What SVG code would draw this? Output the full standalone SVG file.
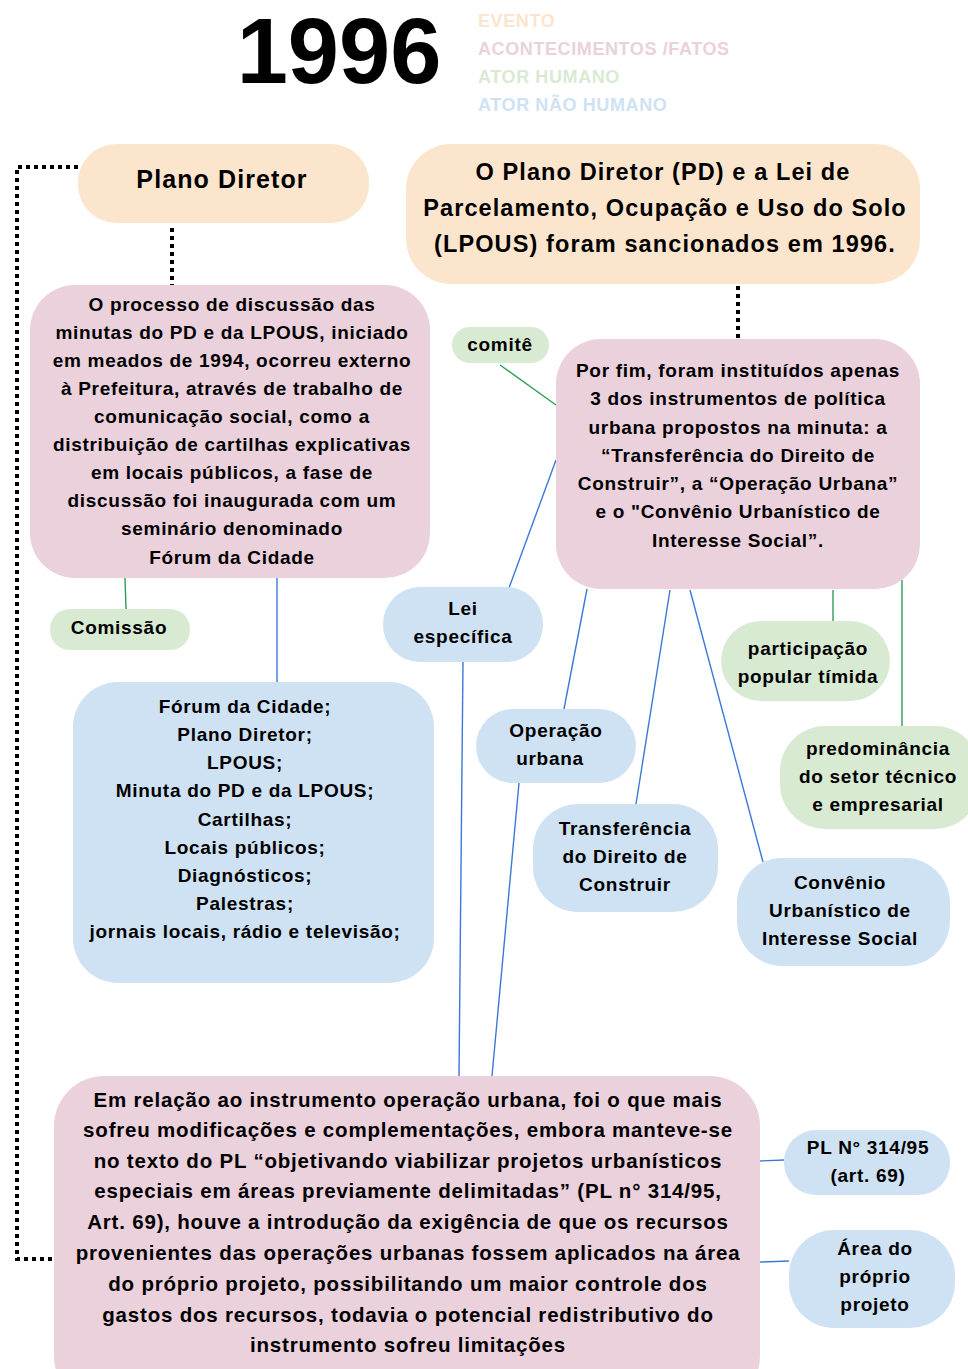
<svg xmlns="http://www.w3.org/2000/svg" width="968" height="1369" viewBox="0 0 968 1369">
  <defs>
    <style>
      text { font-family: "Liberation Sans", Arial, sans-serif; font-weight: bold; fill: #000; text-anchor: middle; }
      .evt { fill: #fce5cd; }
      .fact { fill: #ead1dc; }
      .hum { fill: #d9ead3; }
      .nonhum { fill: #cfe2f3; }
      .t19 { font-size: 19px; letter-spacing: 0.7px; }
      .t20 { font-size: 20.5px; letter-spacing: 0.8px; }
      .t23 { font-size: 23.5px; letter-spacing: 1.1px; }
      .dot { fill: none; stroke: #000; stroke-width: 4; stroke-dasharray: 4 4; }
      .blue { fill: none; stroke: #3c78d8; stroke-width: 1.4; }
      .green { fill: none; stroke: #2f9e55; stroke-width: 1.4; }
      .legend { font-size: 18px; letter-spacing: 0.6px; text-anchor: start; }
    </style>
  </defs>
  <rect width="968" height="1369" fill="#ffffff"/>

  <!-- title and colour key -->
  <g id="title">
    <text x="339" y="83" style="font-size:92px">1996</text>
  </g>
  <g id="legend">
    <text class="legend" x="478" y="27" style="fill:#fce5cd">EVENTO</text>
    <text class="legend" x="478" y="55" style="fill:#ead1dc">ACONTECIMENTOS /FATOS</text>
    <text class="legend" x="478" y="83" style="fill:#d9ead3">ATOR HUMANO</text>
    <text class="legend" x="478" y="111" style="fill:#cfe2f3">ATOR NÃO HUMANO</text>
  </g>

  <!-- connectors -->
  <g id="connectors">
    <path class="dot" d="M172 228 V285"/>
    <path class="dot" d="M78 167 H17 V1259 H54"/>
    <path class="dot" d="M738 286 V339"/>
    <path class="green" d="M500 365 L556 405"/>
    <path class="blue" d="M556 460 L509 588"/>
    <path class="green" d="M125 578 L126 609"/>
    <path class="blue" d="M277 578 V682"/>
    <path class="blue" d="M463 662 L459 1076"/>
    <path class="blue" d="M587 589 L564 709"/>
    <path class="blue" d="M519 783 L492 1076"/>
    <path class="blue" d="M670 590 L636 804"/>
    <path class="blue" d="M690 590 L763 862"/>
    <path class="green" d="M833 590 V621"/>
    <path class="green" d="M902 580 V726"/>
    <path class="blue" d="M760 1161 L784 1160"/>
    <path class="blue" d="M760 1262 L789 1261"/>
  </g>

  <g id="plano-diretor">
    <rect class="evt" x="78" y="144" width="291" height="79" rx="38"/>
    <text x="222" y="188" style="font-size:25px;letter-spacing:1.1px">Plano Diretor</text>
  </g>

  <g id="sancionados">
    <rect class="evt" x="406" y="144" width="514" height="140" rx="45"/>
    <text class="t23" x="663" y="180">O Plano Diretor (PD) e a Lei de</text>
    <text class="t23" x="665" y="216">Parcelamento, Ocupação e Uso do Solo</text>
    <text class="t23" x="665" y="252">(LPOUS) foram sancionados em 1996.</text>
  </g>

  <g id="processo">
    <rect class="fact" x="30" y="285" width="400" height="293" rx="45"/>
    <text class="t19" x="232" y="311">O processo de discussão das</text>
    <text class="t19" x="232" y="339">minutas do PD e da LPOUS, iniciado</text>
    <text class="t19" x="232" y="367">em meados de 1994, ocorreu externo</text>
    <text class="t19" x="232" y="395">à Prefeitura, através de trabalho de</text>
    <text class="t19" x="232" y="423">comunicação social, como a</text>
    <text class="t19" x="232" y="451">distribuição de cartilhas explicativas</text>
    <text class="t19" x="232" y="479">em locais públicos, a fase de</text>
    <text class="t19" x="232" y="507">discussão foi inaugurada com um</text>
    <text class="t19" x="232" y="535">seminário denominado</text>
    <text class="t19" x="232" y="564">Fórum da Cidade</text>
  </g>

  <g id="comite">
    <rect class="hum" x="452" y="327" width="97" height="36" rx="18"/>
    <text class="t19" x="500" y="351">comitê</text>
  </g>

  <g id="instrumentos">
    <rect class="fact" x="556" y="339" width="364" height="250" rx="45"/>
    <text class="t19" x="738" y="377">Por fim, foram instituídos apenas</text>
    <text class="t19" x="738" y="405">3 dos instrumentos de política</text>
    <text class="t19" x="738" y="434">urbana propostos na minuta: a</text>
    <text class="t19" x="738" y="462">“Transferência do Direito de</text>
    <text class="t19" x="738" y="490">Construir”, a “Operação Urbana”</text>
    <text class="t19" x="738" y="518">e o "Convênio Urbanístico de</text>
    <text class="t19" x="738" y="547">Interesse Social”.</text>
  </g>

  <g id="comissao">
    <rect class="hum" x="50" y="609" width="140" height="41" rx="20"/>
    <text class="t19" x="119" y="634">Comissão</text>
  </g>

  <g id="lei-especifica">
    <rect class="nonhum" x="383" y="587" width="160" height="75" rx="37"/>
    <text class="t19" x="463" y="615">Lei</text>
    <text class="t19" x="463" y="643">específica</text>
  </g>

  <g id="lista-forum">
    <rect class="nonhum" x="73" y="682" width="361" height="301" rx="45"/>
    <text class="t19" x="245" y="713">Fórum da Cidade;</text>
    <text class="t19" x="245" y="741">Plano Diretor;</text>
    <text class="t19" x="245" y="769">LPOUS;</text>
    <text class="t19" x="245" y="797">Minuta do PD e da LPOUS;</text>
    <text class="t19" x="245" y="826">Cartilhas;</text>
    <text class="t19" x="245" y="854">Locais públicos;</text>
    <text class="t19" x="245" y="882">Diagnósticos;</text>
    <text class="t19" x="245" y="910">Palestras;</text>
    <text class="t19" x="245" y="938">jornais locais, rádio e televisão;</text>
  </g>

  <g id="participacao">
    <rect class="hum" x="721" y="621" width="169" height="80" rx="40"/>
    <text class="t19" x="808" y="655">participação</text>
    <text class="t19" x="808" y="683">popular tímida</text>
  </g>

  <g id="operacao-urbana">
    <rect class="nonhum" x="476" y="709" width="160" height="74" rx="37"/>
    <text class="t19" x="556" y="737">Operação</text>
    <text class="t19" x="550" y="765">urbana</text>
  </g>

  <g id="predominancia">
    <rect class="hum" x="780" y="726" width="200" height="103" rx="45"/>
    <text class="t19" x="878" y="755">predominância</text>
    <text class="t19" x="878" y="783">do setor técnico</text>
    <text class="t19" x="878" y="811">e empresarial</text>
  </g>

  <g id="transferencia">
    <rect class="nonhum" x="533" y="804" width="185" height="108" rx="45"/>
    <text class="t19" x="625" y="835">Transferência</text>
    <text class="t19" x="625" y="863">do Direito de</text>
    <text class="t19" x="625" y="891">Construir</text>
  </g>

  <g id="convenio">
    <rect class="nonhum" x="737" y="858" width="213" height="108" rx="45"/>
    <text class="t19" x="840" y="889">Convênio</text>
    <text class="t19" x="840" y="917">Urbanístico de</text>
    <text class="t19" x="840" y="945">Interesse Social</text>
  </g>

  <g id="operacao-detalhe">
    <rect class="fact" x="54" y="1076" width="706" height="330" rx="50"/>
    <text class="t20" x="408" y="1107">Em relação ao instrumento operação urbana, foi o que mais</text>
    <text class="t20" x="408" y="1137">sofreu modificações e complementações, embora manteve-se</text>
    <text class="t20" x="408" y="1168">no texto do PL “objetivando viabilizar projetos urbanísticos</text>
    <text class="t20" x="408" y="1198">especiais em áreas previamente delimitadas” (PL n° 314/95,</text>
    <text class="t20" x="408" y="1229">Art. 69), houve a introdução da exigência de que os recursos</text>
    <text class="t20" x="408" y="1260">provenientes das operações urbanas fossem aplicados na área</text>
    <text class="t20" x="408" y="1291">do próprio projeto, possibilitando um maior controle dos</text>
    <text class="t20" x="408" y="1322">gastos dos recursos, todavia o potencial redistributivo do</text>
    <text class="t20" x="408" y="1352">instrumento sofreu limitações</text>
  </g>

  <g id="pl-314">
    <rect class="nonhum" x="784" y="1130" width="166" height="65" rx="32"/>
    <text class="t19" x="868" y="1154">PL N° 314/95</text>
    <text class="t19" x="868" y="1182">(art. 69)</text>
  </g>

  <g id="area-projeto">
    <rect class="nonhum" x="789" y="1230" width="166" height="98" rx="45"/>
    <text class="t19" x="875" y="1255">Área do</text>
    <text class="t19" x="875" y="1283">próprio</text>
    <text class="t19" x="875" y="1311">projeto</text>
  </g>
</svg>
